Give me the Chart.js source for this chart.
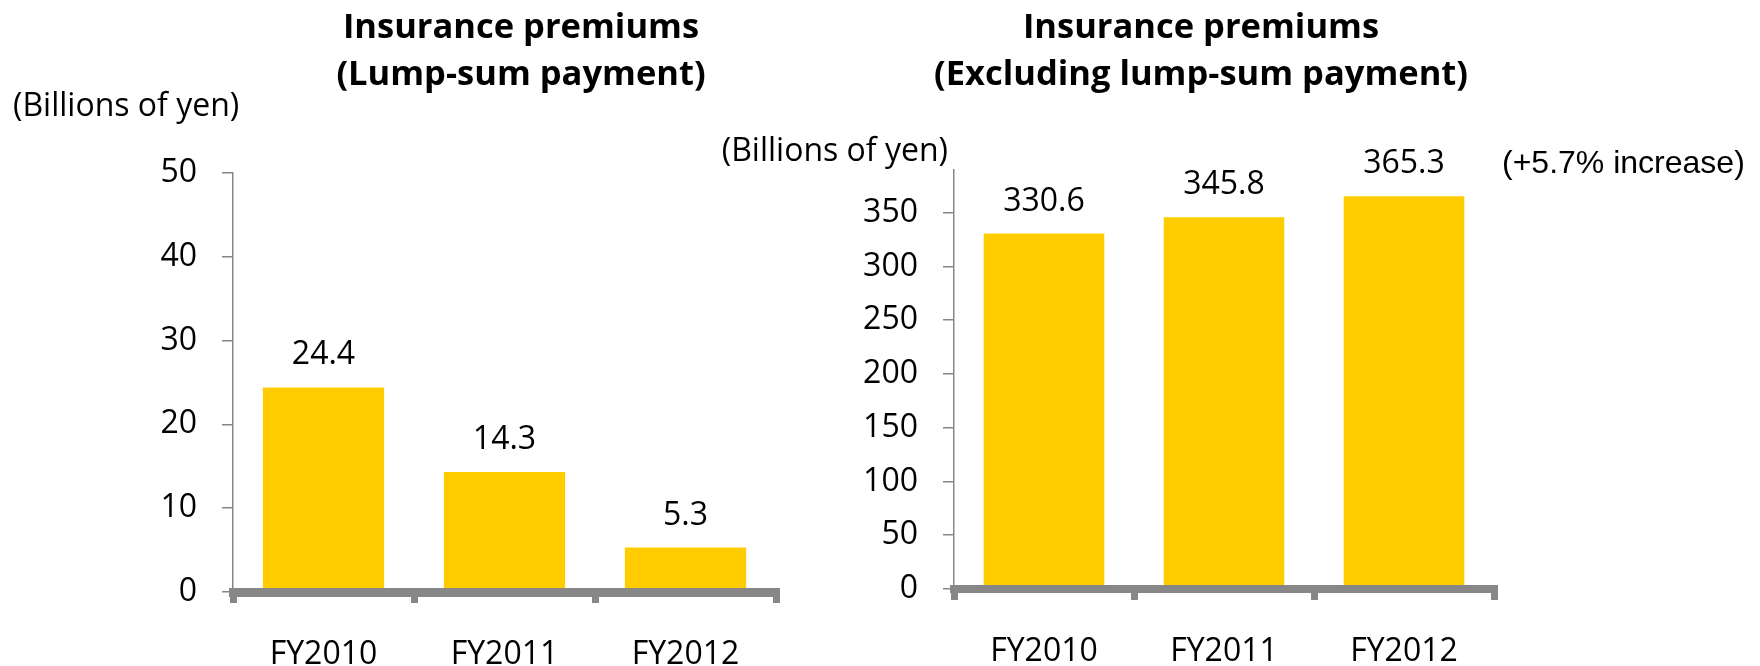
<!DOCTYPE html>
<html>
<head>
<meta charset="utf-8">
<script src="https://cdn.jsdelivr.net/npm/chart.js@4"></script>
<style>
  html, body { margin: 0; padding: 0; background: #ffffff; }
  body { width: 1760px; height: 666px; position: relative; overflow: hidden; }
  .wrap { position: absolute; top: 0; height: 666px; }
</style>
</head>
<body>
<div class="wrap" style="left:0px;width:1042px;"><canvas id="left" width="1042" height="666"></canvas></div>
<div class="wrap" style="left:642px;width:1118px;"><canvas id="right" width="1118" height="666"></canvas></div>
<script>
// ---- data ----
const categories = ['FY2010', 'FY2011', 'FY2012'];
const lumpSumValues = [24.4, 14.3, 5.3];
const excludingLumpSumValues = [330.6, 345.8, 365.3];
const leftTitle = ['Insurance premiums', '(Lump-sum payment)'];
const rightTitle = ['Insurance premiums', '(Excluding lump-sum payment)'];
const unitLabel = '(Billions of yen)';
const increaseNote = '(+5.7% increase)';
const leftTicks = { min: 0, max: 50, step: 10 };
const rightTicks = { min: 0, max: 390, step: 50 };

// ---- styles ----
const BAR = '#FFCC00';
const AXIS = '#878787';
const TXT = '#000000';
const FONT = '"Open Sans", "Noto Sans", sans-serif';

const annotPlugin = {
  id: 'annot',
  afterDatasetsDraw(chart, args, opts) {
    const ctx = chart.ctx;
    const area = chart.chartArea;
    ctx.save();
    ctx.fillStyle = TXT;
    // two-line chart title, centred on the canvas
    if (opts.title) {
      ctx.font = opts.title.font;
      ctx.textAlign = 'center';
      ctx.textBaseline = 'middle';
      opts.title.lines.forEach((line, i) => {
        ctx.fillText(line, chart.width / 2, opts.title.y + i * opts.title.dy);
      });
    }
    // value labels above bars
    const meta = chart.getDatasetMeta(0);
    ctx.font = '32px ' + FONT;
    ctx.textAlign = 'center';
    ctx.textBaseline = 'middle';
    meta.data.forEach((bar, i) => {
      const v = chart.data.datasets[0].data[i];
      ctx.fillText(v.toFixed(1), bar.x, bar.y - opts.labelOffset);
    });
    (opts.items || []).forEach(it => {
      ctx.font = it.font;
      ctx.textAlign = it.align;
      ctx.textBaseline = 'middle';
      const x = it.from === 'right' ? area.right + it.dx : area.left + it.dx;
      ctx.fillText(it.text, x, it.y);
    });
    ctx.restore();
  }
};

function makeChart(id, values, title, ticks, yWidth, xHeight, padTop, padRight, items, borderW) {
  return new Chart(document.getElementById(id), {
    type: 'bar',
    data: {
      labels: categories,
      datasets: [{
        data: values,
        backgroundColor: BAR,
        borderWidth: 0,
        barPercentage: 0.67,
        categoryPercentage: 1.0
      }]
    },
    plugins: [annotPlugin],
    options: {
      responsive: false,
      animation: false,
      devicePixelRatio: 1,
      layout: { padding: { left: 0, right: padRight, top: padTop, bottom: 0 } },
      plugins: {
        legend: { display: false },
        tooltip: { enabled: false },
        title: { display: false },
        annot: {
          labelOffset: 32,
          items: items,
          title: { lines: title, y: 28, dy: 47, font: 'bold 34.5px ' + FONT }
        }
      },
      scales: {
        x: {
          afterFit: s => { s.height = xHeight; },
          grid: { drawOnChartArea: false, drawTicks: true, tickLength: 11, lineWidth: 7, color: AXIS, offset: true },
          border: { display: true, width: borderW, color: AXIS, z: 1 },
          ticks: { color: TXT, font: { family: FONT, size: 32 }, padding: 33, maxRotation: 0 }
        },
        y: {
          min: ticks.min,
          max: ticks.max,
          bounds: 'data',
          afterFit: s => { s.width = yWidth; },
          afterBuildTicks: s => { s.ticks = s.ticks.filter(t => t.value % ticks.step === 0); },
          grid: { drawOnChartArea: false, drawTicks: true, tickLength: 11, lineWidth: 1.5, color: AXIS },
          border: { display: true, width: 1.5, color: AXIS },
          ticks: { stepSize: ticks.step, includeBounds: false, color: TXT, font: { family: FONT, size: 32 }, padding: 25 }
        }
      }
    }
  });
}

makeChart('left', lumpSumValues, leftTitle, leftTicks, 233, 74, 172.7, 266,
  [{ text: unitLabel, from: 'left', dx: -220, y: 107, align: 'left', font: '32px ' + FONT }], 9);

makeChart('right', excludingLumpSumValues, rightTitle, rightTicks, 312, 77, 169.7, 266,
  [{ text: unitLabel, from: 'left', dx: -6, y: 152, align: 'right', font: '32px ' + FONT },
   { text: increaseNote, from: 'right', dx: 8, y: 164, align: 'left', font: '32px "Liberation Sans", Arial, sans-serif' }], 8);
</script>
</body>
</html>
